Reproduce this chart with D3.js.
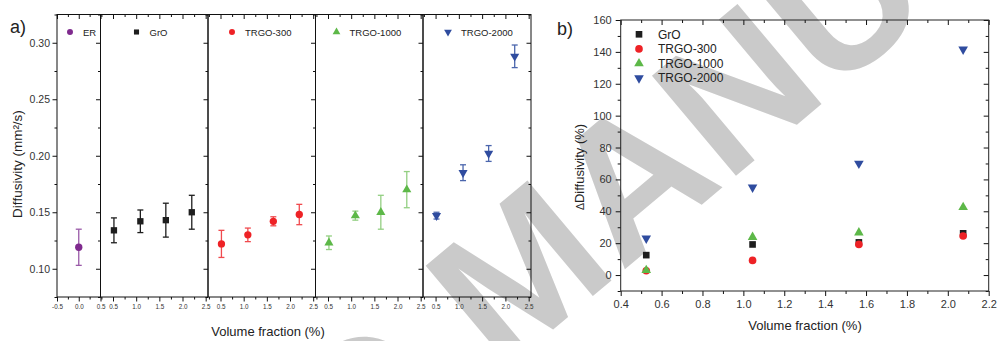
<!DOCTYPE html>
<html>
<head>
<meta charset="utf-8">
<title>Diffusivity vs volume fraction</title>
<script src="https://cdn.jsdelivr.net/npm/d3@7"></script>
<style>
  body { margin: 0; background: #fff; }
  svg { display: block; font-family: "Liberation Sans", Arial, sans-serif; }
</style>
</head>
<body>
<svg width="997" height="341"></svg>
<script>
// series
const names = ["ER", "GrO", "TRGO-300", "TRGO-1000", "TRGO-2000"];
const colors = ["#7f2a8e", "#1e1e1e", "#ee2226", "#5db848", "#2f4c9f"];
const barColors = ["#9a5aa8", "#1e1e1e", "#f04a4e", "#93cf82", "#4b66ad"];
const shapes = ["circle", "square", "circle", "up", "down"];

// panel a: volume fraction (%), diffusivity (mm2/s) and its error
const fracER = [0.0];
const fracA = [0.52, 1.09, 1.64, 2.2];
const diffER = [0.119];
const errER = [0.016];
const diffGrO = [0.134, 0.142, 0.143, 0.150];
const errGrO = [0.011, 0.010, 0.015, 0.015];
const diff300 = [0.122, 0.130, 0.142, 0.148];
const err300 = [0.012, 0.006, 0.004, 0.009];
const diff1000 = [0.123, 0.147, 0.150, 0.170];
const err1000 = [0.006, 0.004, 0.015, 0.016];
const diff2000 = [0.147, 0.185, 0.202, 0.288];
const err2000 = [0.003, 0.007, 0.007, 0.010];

// panel b: change of diffusivity (%)
const fracB = [0.525, 1.045, 1.565, 2.075];
const deltaGrO = [12.5, 19.2, 20.5, 26.2];
const delta300 = [2.7, 9.2, 19.2, 24.5];
const delta1000 = [3.0, 23.8, 26.6, 42.5];
const delta2000 = [23.0, 55.0, 70.0, 141.6];

// ticks
const yTicksA = [0.10, 0.15, 0.20, 0.25, 0.30];
const yMinorA = [0.075, 0.125, 0.175, 0.225, 0.275, 0.325];
const xTicksER = [-0.5, 0.0, 0.5];
const xMinorER = [-0.25, 0.25];
const xTicksSub = [0.5, 1.0, 1.5, 2.0, 2.5];
const xMinorSub = [0.25, 0.75, 1.25, 1.75, 2.25];
const yTicksB = [0, 20, 40, 60, 80, 100, 120, 140, 160];
const yMinorB = [-10, 10, 30, 50, 70, 90, 110, 130, 150];
const xTicksB = [0.4, 0.6, 0.8, 1.0, 1.2, 1.4, 1.6, 1.8, 2.0, 2.2];
const xMinorB = [0.5, 0.7, 0.9, 1.1, 1.3, 1.5, 1.7, 1.9, 2.1];

const svg = d3.select("svg");

// watermark
const wm = svg.append("g").attr("fill", "#cacaca").attr("font-weight", "bold").attr("font-size", 190)
  .attr("transform", "translate(500,374) rotate(-40)");
wm.append("text").attr("x", -52).attr("text-anchor", "end").text("ACCEPTED");
wm.append("text").text("MANUSCRIPT");

function symbolPath(shape, size) {
  const t = { circle: d3.symbolCircle, square: d3.symbolSquare, up: d3.symbolTriangle, down: d3.symbolTriangle }[shape];
  return d3.symbol(t, size)();
}
function drawMarker(g, shape, color, x, y, size) {
  g.append("path").attr("d", symbolPath(shape, size))
    .attr("transform", `translate(${x},${y})` + (shape === "down" ? " rotate(180)" : ""))
    .attr("fill", color);
}
function styleAxis(g, fs) {
  g.select(".domain").remove();
  g.selectAll(".tick line").attr("stroke", "#111");
  g.selectAll(".tick text").attr("fill", "#333").attr("font-size", fs);
}

// ---------- panel a ----------
const aTop = 14.5, aBottom = 297;
const yA = d3.scaleLinear().domain([0.075, 0.325]).range([aBottom, aTop]);
const edges = [57, 100.5, 208, 315.5, 423, 531];
const panelData = [
  { xs: fracER, ys: diffER, es: errER, dom: [-0.5, 0.5], ticks: xTicksER, minor: xMinorER, lx: 13 },
  { xs: fracA, ys: diffGrO, es: errGrO, dom: [0.23, 2.55], ticks: xTicksSub, minor: xMinorSub, lx: 36 },
  { xs: fracA, ys: diff300, es: err300, dom: [0.23, 2.55], ticks: xTicksSub, minor: xMinorSub, lx: 24 },
  { xs: fracA, ys: diff1000, es: err1000, dom: [0.23, 2.55], ticks: xTicksSub, minor: xMinorSub, lx: 21 },
  { xs: fracA, ys: diff2000, es: err2000, dom: [0.23, 2.55], ticks: xTicksSub, minor: xMinorSub, lx: 25 }
];
const fmtA = d => d.toFixed(1);

panelData.forEach((p, i) => {
  const x0 = edges[i], x1 = edges[i + 1];
  const x = d3.scaleLinear().domain(p.dom).range([x0, x1]);
  const g = svg.append("g");

  // bottom axis, outward ticks
  g.append("g").attr("transform", `translate(0,${aBottom})`)
    .call(d3.axisBottom(x).tickValues(p.ticks).tickSize(4.5).tickPadding(3).tickFormat(fmtA))
    .call(a => styleAxis(a, 6.3));
  g.append("g").attr("transform", `translate(0,${aBottom})`)
    .call(d3.axisBottom(x).tickValues(p.minor).tickSize(2.5).tickFormat(""))
    .call(a => styleAxis(a, 6));
  // top axis, inward ticks
  g.append("g").attr("transform", `translate(0,${aTop})`)
    .call(d3.axisTop(x).tickValues(p.ticks).tickSize(-4.5).tickFormat(""))
    .call(a => styleAxis(a, 6));
  g.append("g").attr("transform", `translate(0,${aTop})`)
    .call(d3.axisTop(x).tickValues(p.minor).tickSize(-2.5).tickFormat(""))
    .call(a => styleAxis(a, 6));
  // right side ticks pointing left
  g.append("g").attr("transform", `translate(${x1},0)`)
    .call(d3.axisRight(yA).tickValues(yTicksA).tickSize(-4.5).tickFormat(""))
    .call(a => styleAxis(a, 6));
  g.append("g").attr("transform", `translate(${x1},0)`)
    .call(d3.axisRight(yA).tickValues(yMinorA).tickSize(-2.5).tickFormat(""))
    .call(a => styleAxis(a, 6));

  g.append("rect").attr("x", x0).attr("y", aTop).attr("width", x1 - x0).attr("height", aBottom - aTop)
    .attr("fill", "none").attr("stroke", "#111").attr("stroke-width", 1);

  // error bars
  const rows = p.xs.map((v, k) => ({ x: v, y: p.ys[k], e: p.es[k] }));
  const bars = g.append("g").attr("stroke", barColors[i]).attr("stroke-width", 1.3);
  rows.forEach(d => {
    const cx = x(d.x), yt = yA(d.y + d.e), yb = yA(d.y - d.e);
    bars.append("line").attr("x1", cx).attr("x2", cx).attr("y1", yt).attr("y2", yb);
    bars.append("line").attr("x1", cx - 3).attr("x2", cx + 3).attr("y1", yt).attr("y2", yt);
    bars.append("line").attr("x1", cx - 3).attr("x2", cx + 3).attr("y1", yb).attr("y2", yb);
  });
  const size = shapes[i] === "square" ? 40 : shapes[i] === "circle" ? 42 : 36;
  rows.forEach(d => drawMarker(g, shapes[i], colors[i], x(d.x), yA(d.y), size));

  // in-panel legend
  drawMarker(g, shapes[i], colors[i], x0 + p.lx, 32, shapes[i] === "circle" ? 28 : 26);
  g.append("text").attr("x", x0 + p.lx + 13).attr("y", 35.5)
    .attr("font-size", 9.5).attr("fill", "#222").text(names[i]);
});

// left axis of panel a
svg.append("g").attr("transform", `translate(${edges[0]},0)`)
  .call(d3.axisLeft(yA).tickValues(yTicksA).tickSize(4.5).tickPadding(2.5).tickFormat(d3.format(".2f")))
  .call(a => styleAxis(a, 10.5));
svg.append("g").attr("transform", `translate(${edges[0]},0)`)
  .call(d3.axisLeft(yA).tickValues(yMinorA).tickSize(2.5).tickFormat(""))
  .call(a => styleAxis(a, 10));

svg.append("text").attr("x", 10).attr("y", 33).attr("font-size", 18).attr("fill", "#222").text("a)");
svg.append("text").attr("x", 268).attr("y", 336).attr("text-anchor", "middle")
  .attr("font-size", 13).attr("fill", "#222").text("Volume fraction (%)");
svg.append("text").attr("transform", "translate(22,164) rotate(-90)").attr("text-anchor", "middle")
  .attr("font-size", 13.5).attr("fill", "#222").text("Diffusivity (mm²/s)");

// ---------- panel b ----------
const bl = 620.7, br = 988.7, bt = 20, bb = 291;
const xB = d3.scaleLinear().domain([0.4, 2.2]).range([bl, br]);
const yB = d3.scaleLinear().domain([-10, 160]).range([bb, bt]);
const gb = svg.append("g");

gb.append("g").attr("transform", `translate(0,${bb})`)
  .call(d3.axisBottom(xB).tickValues(xTicksB).tickSize(5).tickPadding(4).tickFormat(d3.format(".1f")))
  .call(a => styleAxis(a, 11));
gb.append("g").attr("transform", `translate(0,${bb})`)
  .call(d3.axisBottom(xB).tickValues(xMinorB).tickSize(3).tickFormat(""))
  .call(a => styleAxis(a, 11));
gb.append("g").attr("transform", `translate(0,${bt})`)
  .call(d3.axisTop(xB).tickValues(xTicksB).tickSize(-5).tickFormat(""))
  .call(a => styleAxis(a, 11));
gb.append("g").attr("transform", `translate(0,${bt})`)
  .call(d3.axisTop(xB).tickValues(xMinorB).tickSize(-3).tickFormat(""))
  .call(a => styleAxis(a, 11));
gb.append("g").attr("transform", `translate(${bl},0)`)
  .call(d3.axisLeft(yB).tickValues(yTicksB).tickSize(5).tickPadding(4))
  .call(a => styleAxis(a, 11));
gb.append("g").attr("transform", `translate(${bl},0)`)
  .call(d3.axisLeft(yB).tickValues(yMinorB).tickSize(3).tickFormat(""))
  .call(a => styleAxis(a, 11));
gb.append("g").attr("transform", `translate(${br},0)`)
  .call(d3.axisRight(yB).tickValues(yTicksB).tickSize(-5).tickFormat(""))
  .call(a => styleAxis(a, 11));
gb.append("g").attr("transform", `translate(${br},0)`)
  .call(d3.axisRight(yB).tickValues(yMinorB).tickSize(-3).tickFormat(""))
  .call(a => styleAxis(a, 11));
gb.append("rect").attr("x", bl).attr("y", bt).attr("width", br - bl).attr("height", bb - bt)
  .attr("fill", "none").attr("stroke", "#222").attr("stroke-width", 1);

const seriesB = [deltaGrO, delta300, delta1000, delta2000];
seriesB.forEach((vals, j) => {
  const i = j + 1;
  const size = shapes[i] === "square" ? 44 : shapes[i] === "circle" ? 46 : 40;
  vals.forEach((v, k) => drawMarker(gb, shapes[i], colors[i], xB(fracB[k]), yB(v), size));
  // legend
  const ly = 34.3 + j * 14.6;
  drawMarker(gb, shapes[i], colors[i], 639, ly, size);
  gb.append("text").attr("x", 658).attr("y", ly + 4.3).attr("font-size", 12)
    .attr("fill", "#222").text(names[i]);
});

svg.append("text").attr("x", 557).attr("y", 35).attr("font-size", 18).attr("fill", "#222").text("b)");
svg.append("text").attr("x", 805).attr("y", 330).attr("text-anchor", "middle")
  .attr("font-size", 13).attr("fill", "#222").text("Volume fraction (%)");
svg.append("text").attr("transform", "translate(584,167) rotate(-90)").attr("text-anchor", "middle")
  .attr("font-size", 13).attr("fill", "#222")
  .call(t => { t.append("tspan").attr("font-size", 10.5).text("Δ"); t.append("tspan").text("Diffusivity (%)"); });
</script>
</body>
</html>
